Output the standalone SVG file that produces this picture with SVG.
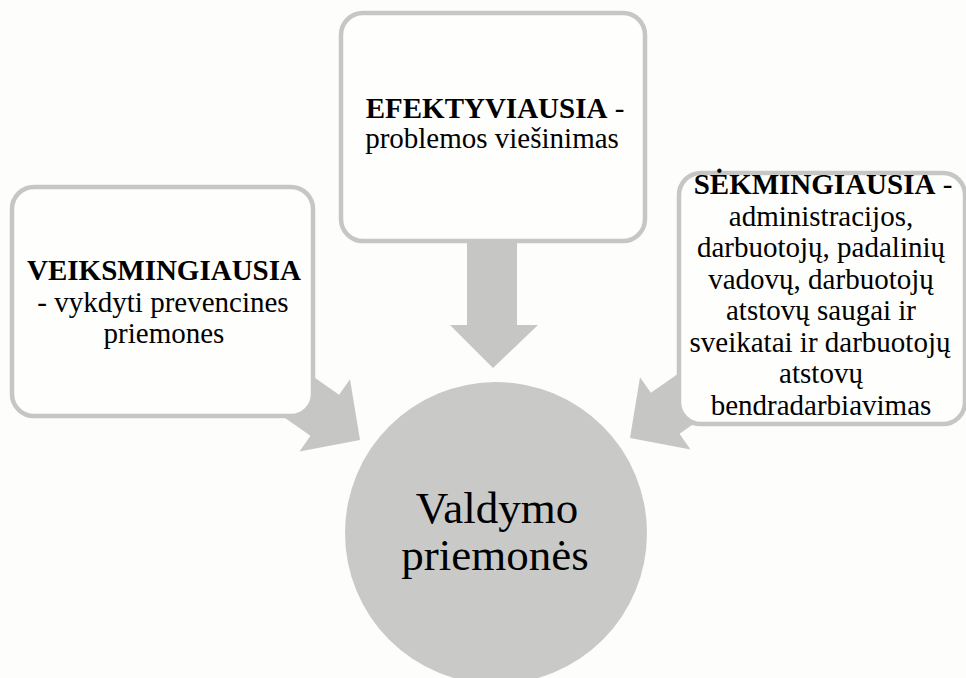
<svg xmlns="http://www.w3.org/2000/svg" width="966" height="678" viewBox="0 0 966 678">
  <style>
    .box { fill: #fefefd; stroke: #c6c7c4; stroke-width: 4.5; }
    .arrow { fill: #c6c7c4; }
    .t { font-family: "Liberation Serif", "Times New Roman", serif; font-size: 29px; fill: #000; text-anchor: middle; }
    .b { font-weight: bold; }
    .big { font-family: "Liberation Serif", "Times New Roman", serif; font-size: 45px; fill: #000; text-anchor: middle; }
  </style>
  <defs>
    <polygon id="arr" points="0,0 -43,-44 -43,-25 -160,-25 -160,25 -43,25 -43,44"/>
  </defs>
  <rect width="966" height="678" fill="#fdfdfb"/>

  <g id="connectors">
    <use href="#arr" class="arrow" transform="translate(360,440) rotate(35)"/>
    <use href="#arr" class="arrow" transform="translate(630,438) rotate(145)"/>
    <polygon class="arrow" points="467,230 517,230 517,325 538,325 493,368 450,325 467,325"/>
  </g>

  <g id="node-center">
    <circle cx="496" cy="533" r="151" fill="#c9cac7"/>
    <text class="big" x="497" y="523">Valdymo</text>
    <text class="big" x="495" y="570">priemonės</text>
  </g>

  <g id="node-left">
    <rect class="box" x="12" y="187" width="301" height="229" rx="22"/>
    <text class="t" x="164" y="280"><tspan class="b">VEIKSMINGIAUSIA</tspan></text>
    <text class="t" x="163" y="311.5">- vykdyti prevencines</text>
    <text class="t" x="164" y="343">priemones</text>
  </g>

  <g id="node-top">
    <rect class="box" x="341" y="13" width="304" height="228" rx="22"/>
    <text class="t" x="495" y="118"><tspan class="b">EFEKTYVIAUSIA</tspan> -</text>
    <text class="t" x="492" y="148">problemos viešinimas</text>
  </g>

  <g id="node-right">
    <rect class="box" x="679" y="173" width="286" height="251" rx="22"/>
    <text class="t" x="823" y="194"><tspan class="b">SĖKMINGIAUSIA</tspan> -</text>
    <text class="t" x="821" y="225.5">administracijos,</text>
    <text class="t" x="821" y="257">darbuotojų, padalinių</text>
    <text class="t" x="821" y="288.5">vadovų, darbuotojų</text>
    <text class="t" x="821" y="320">atstovų saugai ir</text>
    <text class="t" x="820" y="351.5">sveikatai ir darbuotojų</text>
    <text class="t" x="821" y="383">atstovų</text>
    <text class="t" x="821" y="414.5">bendradarbiavimas</text>
  </g>
</svg>
